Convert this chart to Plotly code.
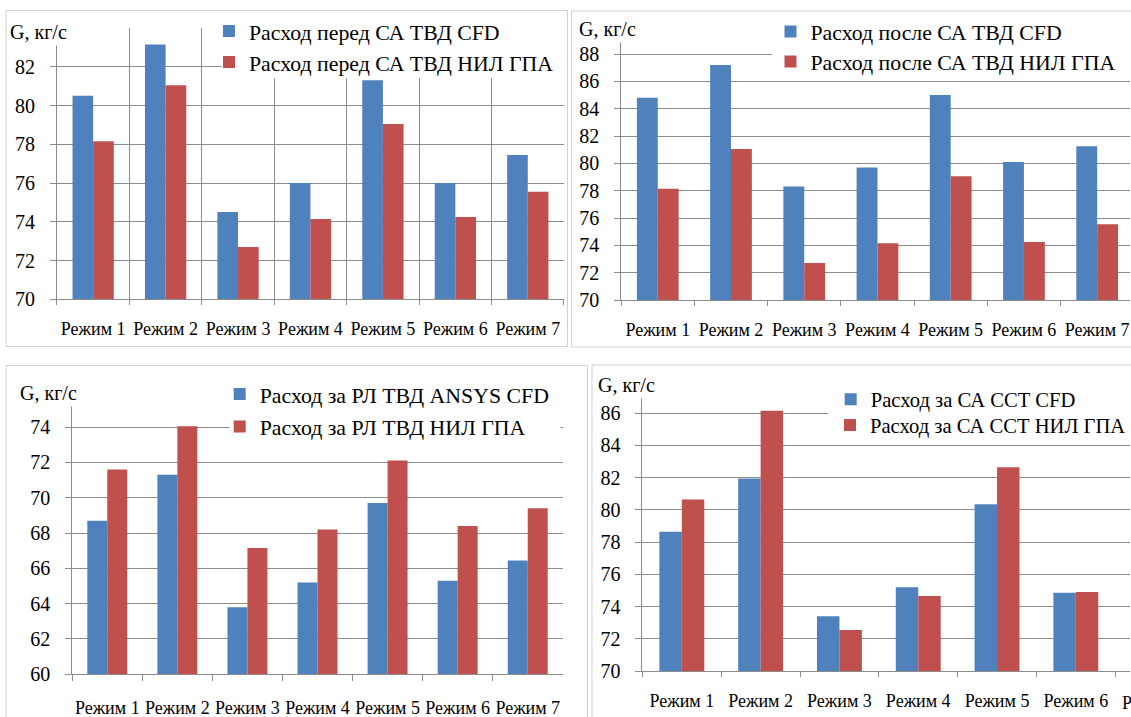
import plotly.graph_objects as go

# Canvas size in pixels
W, H = 1131, 717

BLUE = "#4F81BD"
RED = "#C0504D"
GRID = "#8C8C8C"
FRAME = "#D0D0D0"
FONT = "'Liberation Serif', 'Times New Roman', 'DejaVu Serif', serif"

modes = ["Режим 1", "Режим 2", "Режим 3", "Режим 4", "Режим 5", "Режим 6", "Режим 7"]
axis_label = "G, кг/с"

# Flow before the HPT nozzle guide vane
before_cfd = [80.5, 83.15, 74.5, 76.0, 81.3, 76.0, 77.45]
before_nil = [78.15, 81.05, 72.7, 74.15, 79.05, 74.25, 75.55]
# Flow after the HPT nozzle guide vane
after_cfd = [84.8, 87.2, 78.3, 79.7, 85.0, 80.1, 81.25]
after_nil = [78.15, 81.05, 72.7, 74.15, 79.05, 74.25, 75.55]
# Flow behind the HPT rotor blades
rl_cfd = [68.7, 71.3, 63.8, 65.2, 69.7, 65.3, 66.45]
rl_nil = [71.6, 74.05, 67.15, 68.2, 72.1, 68.4, 69.4]
# Flow behind the power turbine nozzle guide vane
sst_cfd = [78.65, 81.95, 73.4, 75.2, 80.35, 74.85, None]
sst_nil = [80.65, 86.15, 72.55, 74.65, 82.65, 74.9, None]

names = [
    ("Расход перед СА ТВД CFD", "Расход перед СА ТВД НИЛ ГПА"),
    ("Расход после СА ТВД CFD", "Расход после СА ТВД НИЛ ГПА"),
    ("Расход за РЛ ТВД ANSYS CFD", "Расход за РЛ ТВД НИЛ ГПА"),
    ("Расход за СА ССТ CFD", "Расход за СА ССТ НИЛ ГПА"),
]
series = [
    (before_cfd, before_nil),
    (after_cfd, after_nil),
    (rl_cfd, rl_nil),
    (sst_cfd, sst_nil),
]
y_ranges = [(70, 84), (70, 90), (60, 76), (70, 88)]


def fx(px):
    return px / W


def fy(py):
    return 1 - py / H


# Geometry of each of the four chart panels (pixels)
panels = [
    dict(ax_left=57, cat_w=72.5, y_bot=299.3, y_top=28, vgrid=True,
         xtick_len=5, xstand=13, label=(39, 32),
         leg_x=249, leg_rows=(31, 62), leg_font=21.8,
         cover=(222, 566, 20, 78), frame=(6, 568, 10.5, 346.5)),
    dict(ax_left=621.7, cat_w=73.3, y_bot=300, y_top=26.7, vgrid=False,
         xtick_len=5, xstand=13, label=(608, 29),
         leg_x=810.5, leg_rows=(31.5, 61.5), leg_font=21.8,
         cover=(772.6, 1140, 15, 72), frame=(572, 1145, 11, 347)),
    dict(ax_left=72.3, cat_w=70.14, y_bot=674.3, y_top=391.7, vgrid=False,
         xtick_len=6, xstand=17, label=(49, 393),
         leg_x=259.7, leg_rows=(394, 426.5), leg_font=21.8,
         cover=(229.6, 561, 380, 440), frame=(6, 588, 365.5, 730)),
    dict(ax_left=643, cat_w=78.87, y_bot=671, y_top=381, vgrid=False,
         xtick_len=5, xstand=13, label=(627.5, 385),
         leg_x=870.7, leg_rows=(399.3, 425), leg_font=20.6,
         cover=(829, 1140, 388, 440), frame=(592.5, 1145, 365, 730)),
]

fig = go.Figure()
layout = dict(
    width=W, height=H, margin=dict(l=0, r=0, t=0, b=0), autosize=False,
    template="none", paper_bgcolor="white", plot_bgcolor="white",
    barmode="group", bargap=0.43, bargroupgap=0,
    font=dict(family=FONT, color="#000000"),
)
shapes = []
annotations = []

for i, (p, (s_cfd, s_nil), (n_cfd, n_nil), yr) in enumerate(zip(panels, series, names, y_ranges)):
    k = "" if i == 0 else str(i + 1)
    xa, ya = "x" + k, "y" + k
    right_px = min(W, p["ax_left"] + 7 * p["cat_w"])
    x_end = -0.5 + (right_px - p["ax_left"]) / p["cat_w"]

    leg_names = ["legend" + ("" if 2 * i == 0 else str(2 * i + 1)), "legend" + str(2 * i + 2)]
    for vals, nm, col, lg, row in zip((s_cfd, s_nil), (n_cfd, n_nil), (BLUE, RED), leg_names, p["leg_rows"]):
        fig.add_trace(go.Bar(x=modes, y=vals, name=nm, marker=dict(color=col, line=dict(width=0)),
                             xaxis=xa, yaxis=ya, legend=lg, showlegend=True))
        f = p["leg_font"]
        item_h = max(1.3 * f, 16) + 3
        top = row - item_h / 2 - 5
        layout[lg] = dict(x=fx(p["leg_x"] - 40), y=fy(top), xanchor="left", yanchor="top",
                          bgcolor="rgba(0,0,0,0)", borderwidth=0, itemwidth=30,
                          font=dict(family=FONT, size=f, color="#000000"))

    # Value ticks; the topmost one keeps its gridline but its number gives way to the unit label
    yvals = list(range(yr[0], yr[1] + 1, 2))
    ytext = [str(v) for v in yvals[:-1]] + [""]

    layout["xaxis" + k] = dict(
        domain=[fx(p["ax_left"]), fx(right_px)], anchor=ya, type="category",
        range=[-0.5, x_end], tickson="boundaries", ticks="outside",
        ticklen=p["xtick_len"], tickcolor=GRID, tickwidth=1, tickangle=0,
        showline=True, linecolor=GRID, linewidth=1,
        showgrid=p["vgrid"], gridcolor=GRID, gridwidth=1, zeroline=False,
        tickfont=dict(family=FONT, size=18, color="#000000"),
        ticklabelstandoff=p["xstand"], ticklabeloverflow="allow", fixedrange=True,
    )
    layout["yaxis" + k] = dict(
        domain=[fy(p["y_bot"]), fy(p["y_top"])], anchor=xa, range=list(yr),
        tickmode="array", tickvals=yvals, ticktext=ytext,
        ticks="outside", ticklen=6, tickcolor=GRID, tickwidth=1,
        showline=True, linecolor=GRID, linewidth=1,
        showgrid=True, gridcolor=GRID, gridwidth=1, zeroline=False,
        tickfont=dict(family=FONT, size=20, color="#000000"),
        ticklabelstandoff=11, fixedrange=True,
    )

    # Panel frame
    x0, x1, y0, y1 = p["frame"]
    shapes.append(dict(type="rect", xref="paper", yref="paper", x0=fx(x0), x1=fx(x1),
                       y0=fy(y1), y1=fy(y0), line=dict(color=FRAME, width=1),
                       fillcolor="rgba(0,0,0,0)", layer="below"))
    # White legend box hiding the gridlines behind the legend
    c0, c1, d0, d1 = p["cover"]
    shapes.append(dict(type="rect", xref="paper", yref="paper", x0=fx(c0), x1=fx(c1),
                       y0=fy(d1), y1=fy(d0), line=dict(width=0), fillcolor="white",
                       layer="above"))
    # Axis unit label on a white box at the top of the value axis
    lx, ly = p["label"]
    annotations.append(dict(text=axis_label, xref="paper", yref="paper", x=fx(lx), y=fy(ly),
                            xanchor="center", yanchor="middle", showarrow=False,
                            bgcolor="white", borderpad=2,
                            font=dict(family=FONT, size=20, color="#000000")))

# Last category label of the fourth panel runs past the right edge of the canvas
p4 = panels[3]
annotations.append(dict(text=modes[6], xref="paper", yref="paper",
                        x=fx(p4["ax_left"] + 6.5 * p4["cat_w"]),
                        y=fy(p4["y_bot"] + p4["xtick_len"] + p4["xstand"] + 2),
                        xanchor="center", yanchor="top", showarrow=False,
                        font=dict(family=FONT, size=18, color="#000000")))

layout["shapes"] = shapes
layout["annotations"] = annotations
fig.update_layout(**layout)

fig.write_html("out.html")
